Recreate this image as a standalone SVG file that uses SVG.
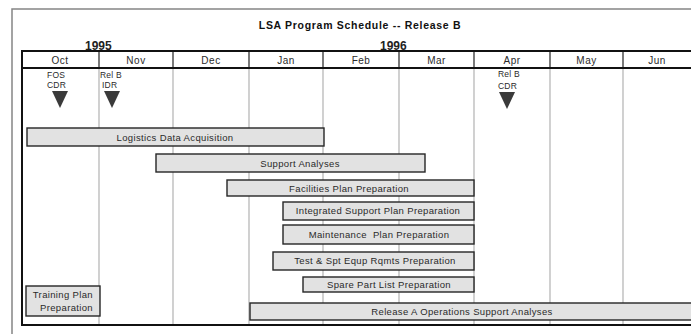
<svg xmlns="http://www.w3.org/2000/svg" width="691" height="334" viewBox="0 0 691 334">
  <style>
    text { font-family: "Liberation Sans", Arial, sans-serif; fill: #2a2a2a; }
    .title { font-size: 10.5px; font-weight: bold; letter-spacing: 0.7px; fill: #111; }
    .year { font-size: 12px; font-weight: bold; fill: #222; }
    .month { font-size: 10px; letter-spacing: 0.5px; text-anchor: middle; }
    .ms { font-size: 8.5px; letter-spacing: 0.2px; }
    .lbl { font-size: 9.5px; letter-spacing: 0.35px; text-anchor: middle; }
    .bar { fill: #e2e2e2; stroke: #262626; stroke-width: 1.4; }
    .grid { stroke: #bdbdbd; stroke-width: 1.4; }
    .hdiv { stroke: #333; stroke-width: 1.3; }
    .rule { stroke: #111; stroke-width: 2; }
    .tri { fill: #3a3a3a; }
  </style>

  <!-- outer frame -->
  <rect x="12" y="9" width="700" height="340" fill="#fff" stroke="#858585" stroke-width="1.5"/>

  <text class="title" x="360" y="28.5" text-anchor="middle">LSA Program Schedule -- Release B</text>
  <text class="year" x="85" y="49.5">1995</text>
  <text class="year" x="380" y="49.5">1996</text>

  <!-- calendar grid -->
  <g id="grid">
    <g class="grid">
      <line x1="99" y1="68" x2="99" y2="325"/>
      <line x1="173" y1="68" x2="173" y2="325"/>
      <line x1="249" y1="68" x2="249" y2="325"/>
      <line x1="323" y1="68" x2="323" y2="325"/>
      <line x1="399" y1="68" x2="399" y2="325"/>
      <line x1="474" y1="68" x2="474" y2="325"/>
      <line x1="550" y1="68" x2="550" y2="325"/>
      <line x1="623" y1="68" x2="623" y2="325"/>
    </g>
    <g class="hdiv">
      <line x1="99" y1="51" x2="99" y2="68"/>
      <line x1="173" y1="51" x2="173" y2="68"/>
      <line x1="249" y1="51" x2="249" y2="68"/>
      <line x1="323" y1="51" x2="323" y2="68"/>
      <line x1="399" y1="51" x2="399" y2="68"/>
      <line x1="474" y1="51" x2="474" y2="68"/>
      <line x1="550" y1="51" x2="550" y2="68"/>
      <line x1="623" y1="51" x2="623" y2="68"/>
    </g>
    <g class="rule">
      <line x1="22" y1="51" x2="691" y2="51"/>
      <line x1="22" y1="68" x2="691" y2="68"/>
      <line x1="22" y1="325" x2="691" y2="325"/>
      <line x1="22" y1="50" x2="22" y2="326"/>
    </g>
  </g>

  <g id="months">
    <text class="month" x="60" y="63.5">Oct</text>
    <text class="month" x="136" y="63.5">Nov</text>
    <text class="month" x="211" y="63.5">Dec</text>
    <text class="month" x="286" y="63.5">Jan</text>
    <text class="month" x="361" y="63.5">Feb</text>
    <text class="month" x="436.5" y="63.5">Mar</text>
    <text class="month" x="512" y="63.5">Apr</text>
    <text class="month" x="586.5" y="63.5">May</text>
    <text class="month" x="657" y="63.5">Jun</text>
  </g>

  <!-- milestones -->
  <g id="ms-fos-cdr">
    <text class="ms" x="47" y="78">FOS</text>
    <text class="ms" x="47" y="88">CDR</text>
    <polygon class="tri" points="52,91 68,91 60,108"/>
  </g>
  <g id="ms-relb-idr">
    <text class="ms" x="100" y="78">Rel B</text>
    <text class="ms" x="102" y="88">IDR</text>
    <polygon class="tri" points="104,91 120,91 112,108"/>
  </g>
  <g id="ms-relb-cdr">
    <text class="ms" x="498" y="77">Rel B</text>
    <text class="ms" x="498" y="89">CDR</text>
    <polygon class="tri" points="499,92 515,92 507,109"/>
  </g>

  <!-- activities -->
  <g id="logistics">
    <rect class="bar" x="27" y="128" width="297" height="18"/>
    <text class="lbl" x="175" y="140.5">Logistics Data Acquisition</text>
  </g>
  <g id="support">
    <rect class="bar" x="156" y="154" width="269" height="18"/>
    <text class="lbl" x="300" y="166.5">Support Analyses</text>
  </g>
  <g id="facilities">
    <rect class="bar" x="227" y="180" width="247" height="16"/>
    <text class="lbl" x="349" y="191.5">Facilities Plan Preparation</text>
  </g>
  <g id="integrated">
    <rect class="bar" x="283" y="202" width="191" height="18"/>
    <text class="lbl" x="378" y="213.5">Integrated Support Plan Preparation</text>
  </g>
  <g id="maintenance">
    <rect class="bar" x="283" y="225" width="191" height="19"/>
    <text class="lbl" x="379" y="238" xml:space="preserve">Maintenance  Plan Preparation</text>
  </g>
  <g id="test-spt">
    <rect class="bar" x="273" y="252" width="201" height="18"/>
    <text class="lbl" x="375" y="264">Test &amp; Spt Equp Rqmts Preparation</text>
  </g>
  <g id="spare">
    <rect class="bar" x="303" y="277" width="171" height="15"/>
    <text class="lbl" x="389" y="287.5">Spare Part List Preparation</text>
  </g>
  <g id="training">
    <rect class="bar" x="26" y="286" width="74" height="30"/>
    <text class="lbl" x="93" y="298" text-anchor="end" style="text-anchor:end">Training Plan</text>
    <text class="lbl" x="93" y="311" style="text-anchor:end">Preparation</text>
  </g>
  <g id="release-a">
    <rect class="bar" x="250" y="303" width="460" height="17"/>
    <text class="lbl" x="462" y="315">Release A Operations Support Analyses</text>
  </g>

  <g id="connectors"/>
</svg>
